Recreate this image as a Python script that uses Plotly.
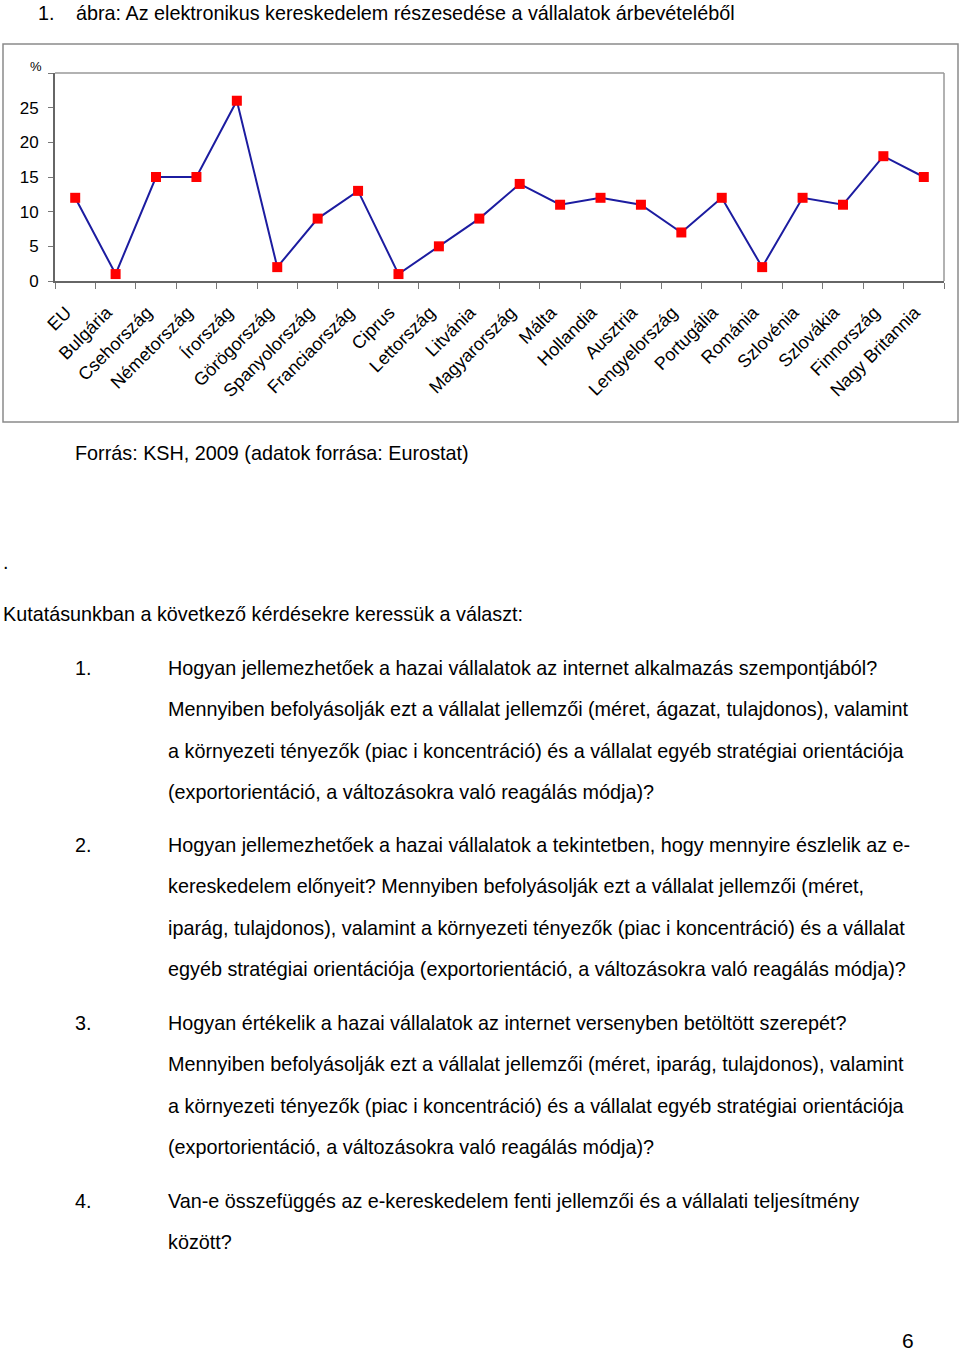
import plotly.graph_objects as go

W, H = 960, 1353

countries = ["EU", "Bulgária", "Csehország", "Németország", "Írország", "Görögország",
             "Spanyolország", "Franciaország", "Ciprus", "Lettország", "Litvánia",
             "Magyarország", "Málta", "Hollandia", "Ausztria", "Lengyelország",
             "Portugália", "Románia", "Szlovénia", "Szlovákia", "Finnország", "Nagy Britannia"]
share = [12, 1, 15, 15, 26, 2, 9, 13, 1, 5, 9, 14, 11, 12, 11, 7, 12, 2, 12, 11, 18, 15]
ytick_vals = [0, 5, 10, 15, 20, 25, 30]
ytick_text = ["0", "5", "10", "15", "20", "25", ""]

title_text = "ábra: Az elektronikus kereskedelem részesedése a vállalatok árbevételéből"
source_text = "Forrás: KSH, 2009 (adatok forrása: Eurostat)"
intro_text = "Kutatásunkban a következő kérdésekre keressük a választ:"
questions = [
    ["Hogyan jellemezhetőek a hazai vállalatok az internet alkalmazás szempontjából?",
     "Mennyiben befolyásolják ezt a vállalat jellemzői (méret, ágazat, tulajdonos), valamint",
     "a környezeti tényezők (piac i koncentráció) és a vállalat egyéb stratégiai orientációja",
     "(exportorientáció, a változásokra való reagálás módja)?"],
    ["Hogyan jellemezhetőek a hazai vállalatok a tekintetben, hogy mennyire észlelik az e-",
     "kereskedelem előnyeit? Mennyiben befolyásolják ezt a vállalat jellemzői (méret,",
     "iparág, tulajdonos), valamint a környezeti tényezők (piac i koncentráció) és a vállalat",
     "egyéb stratégiai orientációja (exportorientáció, a változásokra való reagálás módja)?"],
    ["Hogyan értékelik a hazai vállalatok az internet versenyben betöltött szerepét?",
     "Mennyiben befolyásolják ezt a vállalat jellemzői (méret, iparág, tulajdonos), valamint",
     "a környezeti tényezők (piac i koncentráció) és a vállalat egyéb stratégiai orientációja",
     "(exportorientáció, a változásokra való reagálás módja)?"],
    ["Van-e összefüggés az e-kereskedelem fenti jellemzői és a vállalati teljesítmény",
     "között?"],
]
q_starts = [668, 845, 1023, 1201]
line_gap = 41.3

def px(x):
    return x / W

def py(y):
    return 1 - y / H

TEXT_FONT = "Liberation Sans Narrow, Arial Narrow, Liberation Sans, Arial, sans-serif"
CHART_FONT = "Liberation Sans, Arial, sans-serif"
BODY = 19.8

fig = go.Figure()
fig.add_trace(go.Scatter(
    x=countries, y=share, mode="lines+markers",
    line=dict(color="#1c1ca0", width=2),
    marker=dict(symbol="square", size=10, color="#ff0000", line=dict(width=0)),
    cliponaxis=False, showlegend=False,
))

x0, x1, ytop, ybot = 55, 944, 73, 281

fig.update_layout(
    width=W, height=H,
    margin=dict(l=0, r=0, t=0, b=0, autoexpand=False),
    paper_bgcolor="white", plot_bgcolor="white",
    xaxis=dict(
        domain=[px(x0), px(x1)], type="category",
        range=[-0.5, len(countries) - 0.5],
        tickangle=-45, tickson="boundaries",
        ticks="outside", ticklen=6, tickcolor="#777", tickwidth=1,
        showline=True, linecolor="#666", linewidth=2,
        showgrid=False, zeroline=False, automargin=False,
        tickfont=dict(family=CHART_FONT, size=18, color="black"),
        ticklabelstandoff=12, ticklabelshift=-9,
    ),
    yaxis=dict(
        domain=[py(ybot), py(ytop)], range=[0, 30],
        tickvals=ytick_vals, ticktext=ytick_text,
        ticks="outside", ticklen=5, tickcolor="#777", tickwidth=1,
        showline=True, linecolor="#666", linewidth=2,
        showgrid=False, zeroline=False, automargin=False,
        tickfont=dict(family=CHART_FONT, size=17, color="black"),
        ticklabelstandoff=6,
    ),
)

shapes = [
    dict(type="rect", xref="paper", yref="paper", x0=px(3), x1=px(958), y0=py(422), y1=py(44),
         line=dict(color="#8a8a8a", width=1.5), layer="below"),
    dict(type="line", xref="paper", yref="paper", x0=px(x0), x1=px(x1), y0=py(ytop), y1=py(ytop),
         line=dict(color="#999", width=1.5)),
    dict(type="line", xref="paper", yref="paper", x0=px(x1), x1=px(x1), y0=py(ytop), y1=py(ybot),
         line=dict(color="#999", width=1.5)),
]
fig.update_layout(shapes=shapes)

ann = []

def text(x, y, s, size=BODY, anchor="left", font=TEXT_FONT):
    ann.append(dict(x=px(x), y=py(y), xref="paper", yref="paper", text=s, showarrow=False,
                    xanchor=anchor, yanchor="middle", font=dict(family=font, size=size, color="black")))

DX = -2
text(38 + DX, 13, "1.", size=19.8)
text(76 + DX, 13, title_text, size=19.8)
ann.append(dict(x=px(36), y=py(66), xref="paper", yref="paper", text="%", showarrow=False,
                xanchor="center", yanchor="middle", font=dict(family=CHART_FONT, size=13, color="black")))
text(75 + DX, 453, source_text)
text(3 + DX, 562, ".")
text(3 + DX, 614, intro_text)
for i, (q, y0) in enumerate(zip(questions, q_starts)):
    text(75 + DX, y0, f"{i + 1}.")
    for j, line in enumerate(q):
        text(168 + DX, y0 + j * line_gap, line)
text(908, 1340, "6", size=21, anchor="center")

fig.update_layout(annotations=ann)
fig.write_html("out.html")
